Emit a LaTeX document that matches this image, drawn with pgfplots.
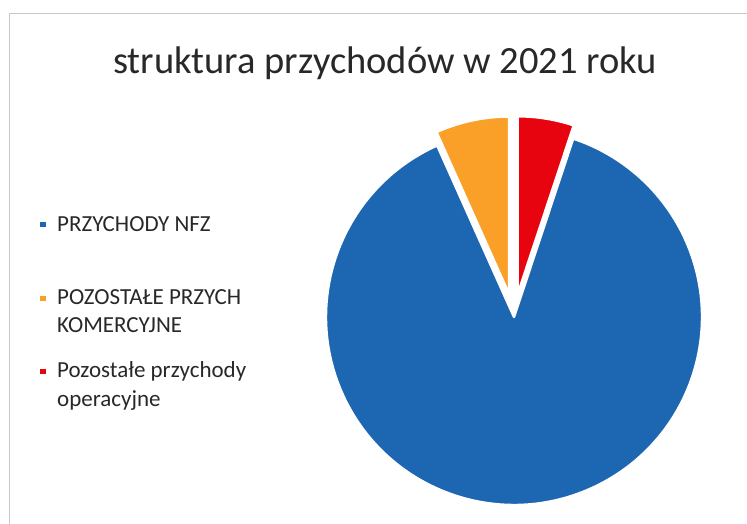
\documentclass[border=0pt]{standalone}
\usepackage{pgfplots}
\pgfplotsset{compat=1.18}
\usepackage{pgfplotstable}
\usepackage{fontspec}
\setmainfont{Carlito}
\definecolor{nfz}{RGB}{28,102,178}
\definecolor{kom}{RGB}{250,160,40}
\definecolor{opr}{RGB}{232,4,14}
\definecolor{txt}{RGB}{40,40,40}
\pgfplotstableread{
id value
nfz 88.2
kom 6.7
opr 5.1
}\piedata
\begin{document}
\begin{tikzpicture}[x=1pt,y=1pt]
\path[use as bounding box] (0,0) rectangle (747,524);
\draw[black!22, line width=1pt] (9,0) -- (9,510) -- (747,510);
\node[font=\fontsize{38.5}{46}\selectfont, text=txt, anchor=base] at (385,450) {struktura przychodów w 2021 roku};
% legend
\fill[nfz] (40,296.5) rectangle (46,301.5);
\fill[kom] (40,222.5) rectangle (46,227.5);
\fill[opr] (40,149.5) rectangle (46,154.5);
\begin{scope}[every node/.style={anchor=base west, inner sep=0pt, font=\fontsize{23}{28}\selectfont, text=txt}]
\node at (57,292) {PRZYCHODY NFZ};
\node at (57,219) {POZOSTAŁE PRZYCH};
\node at (57,191) {KOMERCYJNE};
\node at (57,146) {Pozostałe przychody};
\node at (57,117) {operacyjne};
\end{scope}
\begin{axis}[at={(514pt,207pt)}, anchor=origin, x=1pt, y=1pt,
  xmin=-200, xmax=200, ymin=-200, ymax=200, hide axis, clip=false]
\pgfplotstablegetelem{0}{value}\of\piedata \pgfmathsetmacro\vA{\pgfplotsretval}
\pgfplotstablegetelem{1}{value}\of\piedata \pgfmathsetmacro\vB{\pgfplotsretval}
\pgfplotstablegetelem{2}{value}\of\piedata \pgfmathsetmacro\vC{\pgfplotsretval}
\pgfmathsetmacro\aR{90-3.6*\vC}
\pgfmathsetmacro\aO{90+3.6*\vB}
\pgfmathsetmacro\aE{\aO+3.6*\vA}
\pgfmathsetmacro\mO{(90+\aO)/2}
\pgfmathsetmacro\mR{(90+\aR)/2}
\fill[nfz, draw=white, line width=2.5pt, line join=round] (axis cs:0,0) -- ++(\aO:188pt) arc[start angle=\aO, end angle=\aE, radius=188pt] -- cycle;
\fill[kom, draw=white, line width=2.5pt, line join=round] ([shift={(\mO:23pt)}]axis cs:0,0) -- ++(90:178pt) arc[start angle=90, end angle=\aO, radius=178pt] -- cycle;
\fill[opr, draw=white, line width=2.5pt, line join=round] ([shift={(\mR:23pt)}]axis cs:0,0) -- ++(\aR:178pt) arc[start angle=\aR, end angle=90, radius=178pt] -- cycle;
\end{axis}
\end{tikzpicture}
\end{document}
